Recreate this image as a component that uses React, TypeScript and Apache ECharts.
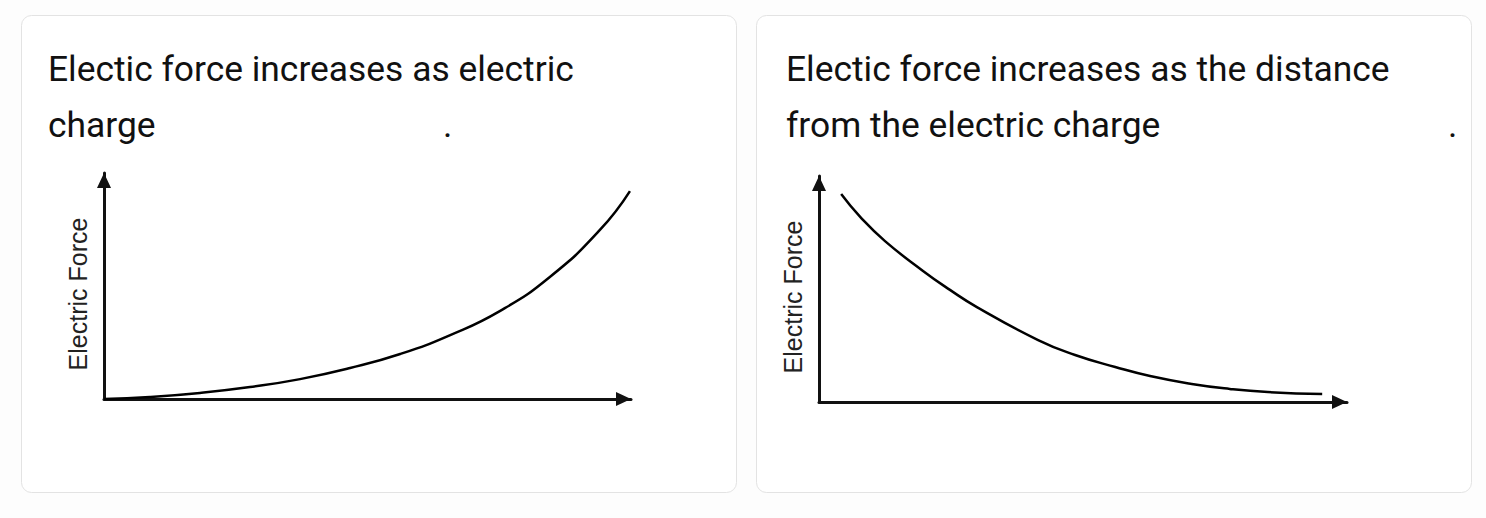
import React, { useEffect, useRef } from "react";
import * as echarts from "echarts";

// Left panel: electric force vs electric charge (rising curve)
const chargeX = [0, 8.7, 18.2, 27.7, 37.2, 46.7, 56.2, 65.7, 75.1, 84.6, 94.1, 99.8];
const chargeForce = [0, 0.9, 2.7, 5.3, 8.8, 13.7, 19.9, 28.3, 38.9, 54.0, 74.8, 92.0];

// Right panel: electric force vs distance (falling curve)
const distanceX = [4.2, 7.8, 12.5, 19.7, 24.8, 29.9, 41.5, 48.5, 56.1, 62.7, 70.6, 77.8, 85.0, 95.3];
const distanceForce = [92.0, 81.9, 71.2, 58.0, 49.6, 42.0, 27.4, 20.8, 15.5, 11.5, 8.0, 5.8, 4.4, 3.5];

const titleLeft = ["Electic force increases as electric", "charge"];
const titleRight = ["Electic force increases as the distance", "from the electric charge"];
const yAxisName = "Electric Force";

export default function App() {
  const ref = useRef<HTMLDivElement>(null);
  useEffect(() => {
    if (!ref.current) return;
    const chart = echarts.init(ref.current, null, { renderer: "svg" });
    const titleFont = "Roboto, 'Noto Sans', sans-serif";
    const axisLine = {
      show: true,
      symbol: ["none", "triangle"],
      symbolSize: [14, 15],
      symbolOffset: [0, -7.5],
      lineStyle: { color: "#111", width: 3 },
    };
    const mkX = (i: number) => ({
      gridIndex: i,
      type: "value",
      min: 0,
      max: 100,
      axisLine,
      axisTick: { show: false },
      axisLabel: { show: false },
      splitLine: { show: false },
    });
    const mkY = (i: number) => ({
      gridIndex: i,
      type: "value",
      min: 0,
      max: 100,
      name: yAxisName,
      nameLocation: "middle",
      nameRotate: 90,
      nameGap: 14,
      nameTextStyle: {
        fontFamily: "'Liberation Sans', Arial, sans-serif",
        fontSize: 25,
        color: "#222",
        padding: [0, 16, 0, 0],
      },
      axisLine,
      axisTick: { show: false },
      axisLabel: { show: false },
      splitLine: { show: false },
    });
    const card = (x: number) => ({
      type: "rect",
      z: -10,
      shape: { x, y: 15.5, width: 715, height: 477, r: 10 },
      style: { fill: "#ffffff", stroke: "#e3e3e3", lineWidth: 1 },
    });
    const txt = (text: string, x: number, y: number) => ({
      type: "text",
      z: 10,
      x,
      y,
      style: {
        text,
        fontFamily: titleFont,
        fontSize: 35.4,
        fill: "#111",
        verticalAlign: "middle",
        align: "left",
      },
    });
    const option = {
      animation: false,
      backgroundColor: "#fdfdfd",
      graphic: [
        card(21.5),
        card(756.5),
        txt(titleLeft[0], 48, 69),
        txt(titleLeft[1], 48, 125),
        txt(".", 443, 125),
        txt(titleRight[0], 786, 69),
        txt(titleRight[1], 786, 125),
        txt(".", 1448, 125),
      ],
      grid: [
        { left: 104, top: 173, width: 527, height: 226 },
        { left: 819, top: 176, width: 528, height: 226 },
      ],
      xAxis: [mkX(0), mkX(1)],
      yAxis: [mkY(0), mkY(1)],
      series: [
        {
          type: "line",
          xAxisIndex: 0,
          yAxisIndex: 0,
          data: chargeX.map((x, i) => [x, chargeForce[i]]),
          smooth: 0.5,
          showSymbol: false,
          clip: false,
          lineStyle: { color: "#000", width: 2.5 },
        },
        {
          type: "line",
          xAxisIndex: 1,
          yAxisIndex: 1,
          data: distanceX.map((x, i) => [x, distanceForce[i]]),
          smooth: 0.5,
          showSymbol: false,
          clip: false,
          lineStyle: { color: "#000", width: 2.5 },
        },
      ],
    };
    chart.setOption(option as any);
    return () => chart.dispose();
  }, []);
  return (
    <div
      ref={ref}
      style={{ position: "fixed", left: 0, top: 0, width: 1486, height: 518 }}
    />
  );
}
